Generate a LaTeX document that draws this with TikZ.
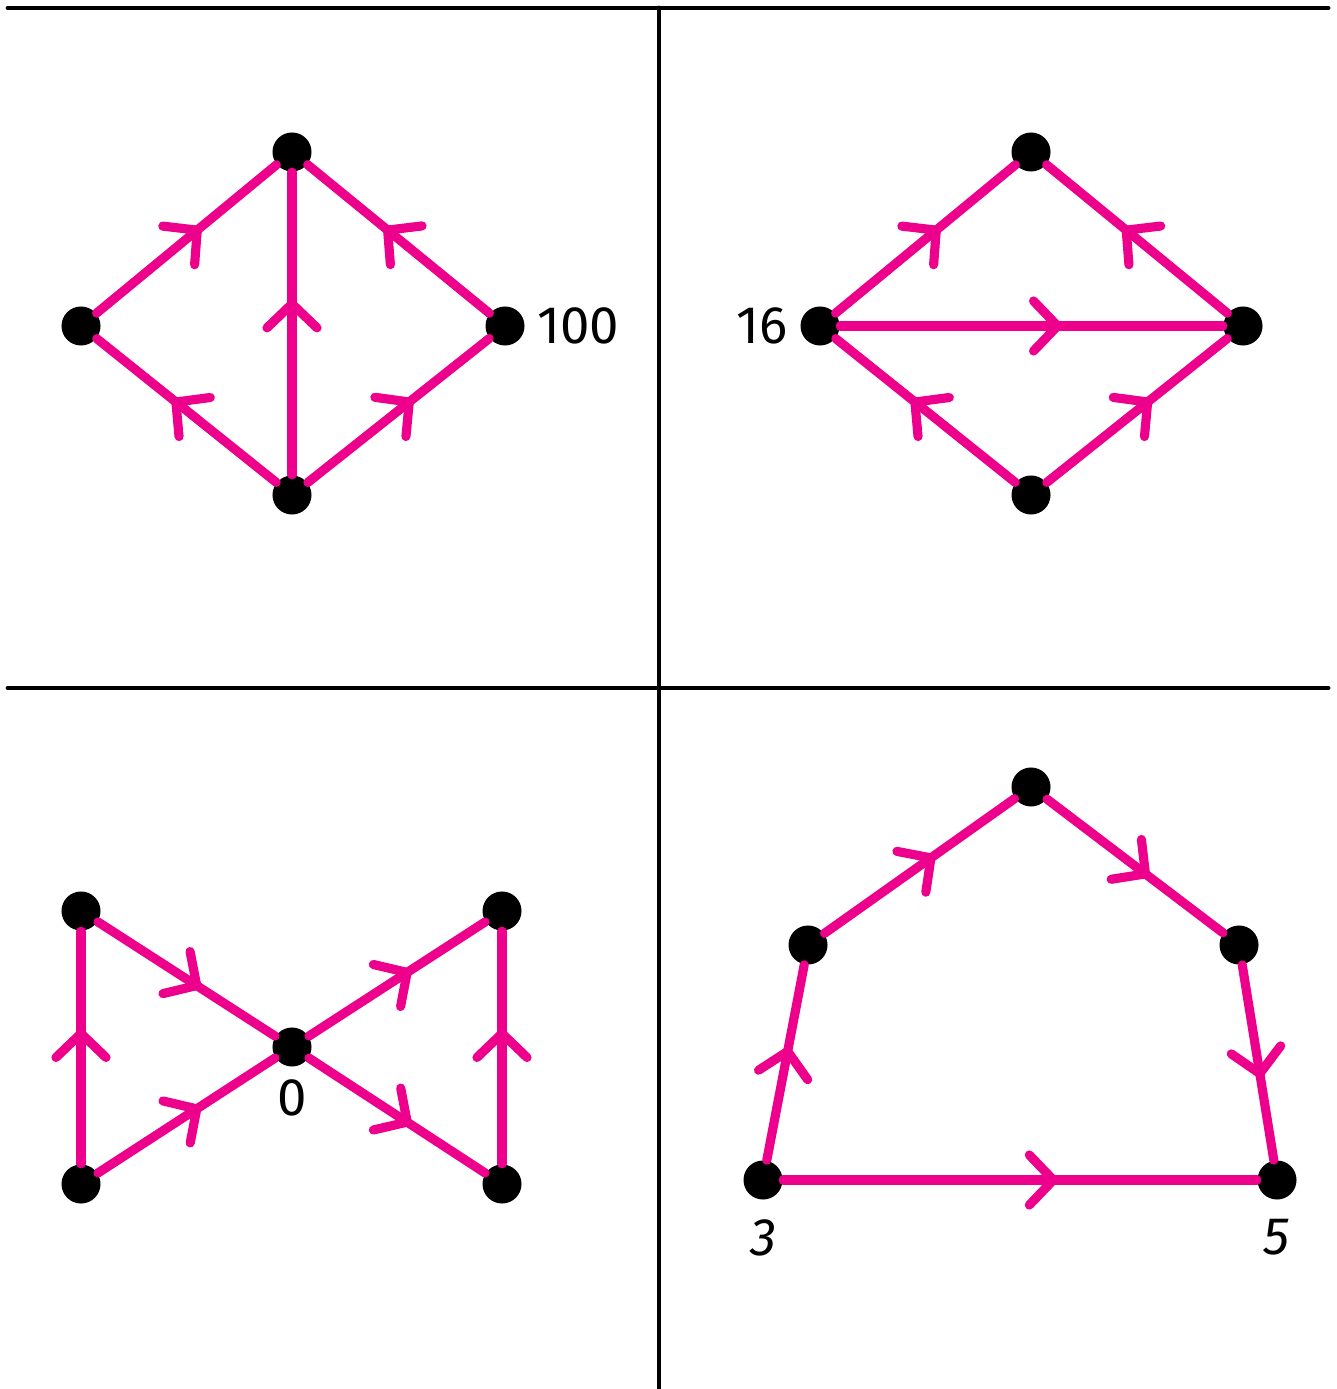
\documentclass[tikz,border=0pt]{standalone}
\usepackage{fontspec}
\setsansfont{Fira Sans}
\usetikzlibrary{arrows.meta,decorations.markings}
\definecolor{edgepink}{RGB}{236,0,140}

\tikzset{
  dot/.style={circle, fill=black, inner sep=0pt, minimum size=0.39cm},
  edge/.style={edgepink, line width=2.6pt, line cap=round, postaction={decorate},
    decoration={markings, mark=at position 0.58 with {\arrow{Straight Barb[length=2.4mm,width=5mm,round]}}}},
  numtext/.style={font=\sffamily\fontsize{15}{18}\selectfont},
  frame/.style={line width=1.4pt, line cap=round}
}

\begin{document}
\begin{tikzpicture}[x=0.01cm, y=-0.01cm]
\useasboundingbox (0,0) rectangle (1336,1389);
% quadrant frame
\coordinate (fTL) at (8,8);
\coordinate (fTR) at (1328,8);
\coordinate (fML) at (8,688);
\coordinate (fMR) at (1328,688);
\coordinate (fVT) at (659,8);
\coordinate (fVB) at (659,1389);
\draw[frame] (fTL) -- (fTR);
\draw[frame] (fML) -- (fMR);
\draw[frame] (fVT) -- (fVB);

% top left
\node[dot] (a1) at (292,152) {};
\node[dot] (a2) at (81,326) {};
\node[dot] (a3) at (505,326) {};
\node[dot] (a4) at (292,495) {};
\node[numtext, right=0pt] (la) at (a3.east) {100};
\draw[edge] (a2) -- (a1);
\draw[edge] (a4) -- (a1);
\draw[edge] (a3) -- (a1);
\draw[edge] (a4) -- (a2);
\draw[edge] (a4) -- (a3);

% top right
\node[dot] (b1) at (1031,152) {};
\node[dot] (b2) at (820,326) {};
\node[dot] (b3) at (1243,326) {};
\node[dot] (b4) at (1031,495) {};
\node[numtext, left=0pt] (lb) at (b2.west) {16};
\draw[edge] (b2) -- (b1);
\draw[edge] (b3) -- (b1);
\draw[edge] (b2) -- (b3);
\draw[edge] (b4) -- (b2);
\draw[edge] (b4) -- (b3);

% bottom left
\node[dot] (c1) at (81,911) {};
\node[dot] (c2) at (502,911) {};
\node[dot] (c3) at (292,1047) {};
\node[dot] (c4) at (81,1184) {};
\node[dot] (c5) at (502,1184) {};
\node[numtext, below=0pt] (lc) at (c3.south) {0};
\draw[edge] (c4) -- (c1);
\draw[edge] (c1) -- (c3);
\draw[edge] (c3) -- (c2);
\draw[edge] (c4) -- (c3);
\draw[edge] (c3) -- (c5);
\draw[edge] (c5) -- (c2);

% bottom right
\node[dot] (d1) at (1031,787) {};
\node[dot] (d2) at (808,945) {};
\node[dot] (d3) at (1239,945) {};
\node[dot] (d4) at (763,1180) {};
\node[dot] (d5) at (1277,1180) {};
\node[numtext, below=2pt, font=\sffamily\itshape\fontsize{15}{18}\selectfont] (ld) at (d4.south) {3};
\node[numtext, below=2pt, font=\sffamily\itshape\fontsize{15}{18}\selectfont] (le) at (d5.south) {5};
\draw[edge] (d2) -- (d1);
\draw[edge] (d1) -- (d3);
\draw[edge] (d3) -- (d5);
\draw[edge] (d4) -- (d2);
\draw[edge] (d4) -- (d5);
\end{tikzpicture}
\end{document}
